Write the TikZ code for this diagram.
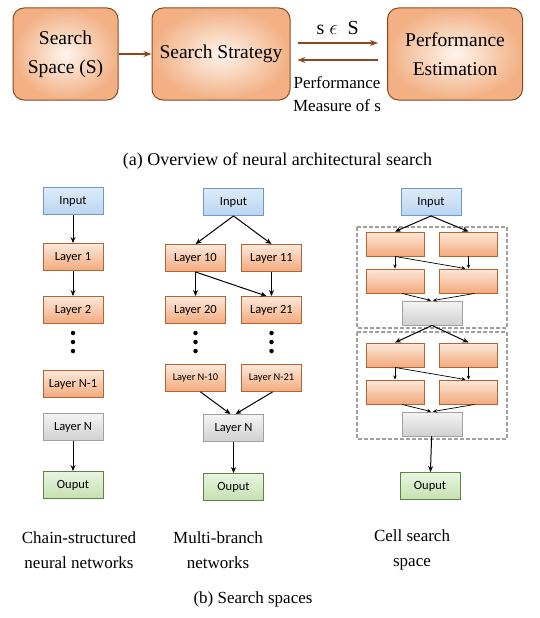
\documentclass[tikz,border=0pt]{standalone}
\usepackage{fontspec}
\setmainfont{LiberationSerif}[Extension=.ttf, UprightFont=*-Regular, BoldFont=*-Bold, ItalicFont=*-Italic]
\newfontfamily\calfont{Carlito}
\usetikzlibrary{arrows.meta}

\definecolor{boxbrown}{RGB}{140,72,28}
\definecolor{peachout}{RGB}{242,176,132}
\definecolor{peachin}{RGB}{254,244,236}
\definecolor{orangeline}{RGB}{180,100,50}
\definecolor{orangetop}{RGB}{252,232,218}
\definecolor{orangebot}{RGB}{243,170,124}
\definecolor{blueline}{RGB}{105,155,208}
\definecolor{bluetop}{RGB}{222,235,248}
\definecolor{bluebot}{RGB}{186,212,240}
\definecolor{greenline}{RGB}{90,135,60}
\definecolor{greentop}{RGB}{234,244,226}
\definecolor{greenbot}{RGB}{196,224,176}
\definecolor{grayline}{RGB}{160,160,160}
\definecolor{graytop}{RGB}{244,244,244}
\definecolor{graybot}{RGB}{208,208,208}

\tikzset{
	topbox/.style={draw=boxbrown, line width=1pt, rounded corners=11pt,
		shading=radial, inner color=peachin, outer color=peachout,
		minimum height=92pt, align=center, inner sep=0pt,
		font=\fontsize{19.5}{29}\selectfont},
	flow/.style={draw=boxbrown, line width=1.3pt, -{Stealth[length=8pt, width=6pt]}},
	layerbox/.style={draw=orangeline, line width=0.9pt,
		top color=orangetop, bottom color=orangebot,
		minimum width=60pt, minimum height=27pt, inner sep=0pt,
		font=\calfont\fontsize{12.5}{14}\selectfont},
	inbox/.style={layerbox, draw=blueline, top color=bluetop, bottom color=bluebot},
	outbox/.style={layerbox, draw=greenline, top color=greentop, bottom color=greenbot},
	lastbox/.style={layerbox, draw=grayline, top color=graytop, bottom color=graybot},
	cellbox/.style={layerbox, minimum width=58pt, minimum height=24pt},
	cellgray/.style={lastbox, minimum width=60pt, minimum height=24pt},
	link/.style={line width=1pt, -{Stealth[length=6pt, width=5pt]}},
	thinlink/.style={line width=0.7pt, -{Stealth[length=4pt, width=3.5pt]}},
	cellframe/.style={draw=grayline, line width=1.1pt, dash pattern=on 4pt off 2pt},
	caption/.style={align=center, font=\fontsize{17}{25}\selectfont},
	vdot/.style={circle, fill=black, inner sep=0pt, minimum size=4.5pt}
}

\begin{document}
\begin{tikzpicture}[x=1pt, y=-1pt]
	\useasboundingbox (0,0) rectangle (540,618);

	% (a) overview
	\node[topbox, minimum width=105pt] (space) at (65.5,54) {Search\\Space (S)};
	\node[topbox, minimum width=138pt] (strategy) at (221,54) {Search Strategy};
	\node[topbox, minimum width=135pt] (estim) at (455,54) {Performance\\Estimation};

	\draw[flow] (space) -- (strategy);
	\draw[flow] ([shift={(7,-11)}]strategy.east) -- ([shift={(-9,-11)}]estim.west)
		node[midway, above=4pt, font=\fontsize{20}{24}\selectfont] (sample) {s $\epsilon$\ \ S};
	\draw[flow] ([shift={(-9,6)}]estim.west) -- ([shift={(7,6)}]strategy.east);
	\node[align=center, font=\fontsize{17}{23}\selectfont] (measure) at (337,94)
		{Performance\\Measure of s};

	\node[font=\fontsize{18}{22}\selectfont] (capa) at (277.5,161)
		{(a) Overview of neural architectural search};

	% chain-structured
	\node[inbox] (cin) at (73,201) {Input};
	\node[layerbox] (c1) at (73,257) {Layer 1};
	\node[layerbox] (c2) at (73,310) {Layer 2};
	\node[layerbox] (cn1) at (73,384) {Layer N-1};
	\node[lastbox] (cn) at (73,427) {Layer N};
	\node[outbox] (cout) at (73,485) {Ouput};
	\foreach \y in {333,342,351}
		\node[vdot] at (73,\y) {};

	\draw[link] (cin) -- (c1);
	\draw[link] (c1) -- (c2);
	\draw[link] (cn) -- (cout);

	% multi-branch
	\node[inbox] (min) at (233.5,202) {Input};
	\node[layerbox] (m10) at (195.5,258) {Layer 10};
	\node[layerbox] (m11) at (271.5,258) {Layer 11};
	\node[layerbox] (m20) at (195.5,310) {Layer 20};
	\node[layerbox] (m21) at (271.5,310) {Layer 21};
	\node[layerbox, font=\calfont\fontsize{10.4}{12}\selectfont] (mn10) at (195.5,378) {Layer N-10};
	\node[layerbox, font=\calfont\fontsize{10.4}{12}\selectfont] (mn21) at (271.5,378) {Layer N-21};
	\node[lastbox] (mn) at (233.5,428) {Layer N};
	\node[outbox] (mout) at (233.5,487) {Ouput};
	\foreach \x in {195.5,271.5}
		\foreach \y in {333,342,351}
			\node[vdot] at (\x,\y) {};

	\draw[link] (min.south) -- (m10.north);
	\draw[link] (min.south) -- (m11.north);
	\draw[link] (m10) -- (m20);
	\draw[link] (m10.south) -- ([xshift=-5pt]m21.north);
	\draw[link] (m11) -- (m21);
	\draw[link] ([xshift=5pt]mn10.south) -- ([xshift=-3pt]mn.north);
	\draw[link] ([xshift=1pt]mn21.south) -- ([xshift=2pt]mn.north);
	\draw[link] (mn) -- (mout);

	% cell search space
	\node[inbox] (sin) at (431,202) {Input};
	\draw[cellframe] (357,227) rectangle (507,328);
	\draw[cellframe] (357,332) rectangle (507,439);
	\foreach \c/\y in {1/244,2/355} {
		\node[cellbox] (s\c a) at (395,\y) {};
		\node[cellbox] (s\c b) at (468.5,\y) {};
		\node[cellbox] (s\c c) at (395,\y+37) {};
		\node[cellbox] (s\c d) at (468.5,\y+37) {};
		\node[cellgray] (s\c g) at (432,\y+69) {};
		\draw[thinlink] (s\c a) -- (s\c c);
		\draw[thinlink] (s\c a.south) -- ([xshift=-3pt]s\c d.north);
		\draw[thinlink] (s\c b) -- (s\c d);
		\draw[thinlink] ([xshift=7pt]s\c c.south) -- ([xshift=-1pt]s\c g.north);
		\draw[thinlink] ([xshift=6pt]s\c d.south) -- ([xshift=1pt]s\c g.north);
	}
	\node[outbox] (sout) at (430,486) {Ouput};

	\draw[link] (sin.south) -- (s1a.north);
	\draw[link] (sin.south) -- (s1b.north);
	\draw[link] (s1g.south) -- (s2a.north);
	\draw[link] (s1g.south) -- (s2b.north);
	\draw[link] (s2g) -- (sout);

	% captions
	\node[caption] (capchain) at (79,550) {Chain-structured\\neural networks};
	\node[caption] (capmulti) at (218,550) {Multi-branch\\networks};
	\node[caption] (capcell) at (412,550) {Cell search\\space};
	\node[font=\fontsize{17}{21}\selectfont] (capb) at (253,599) {(b) Search spaces};
\end{tikzpicture}
\end{document}
